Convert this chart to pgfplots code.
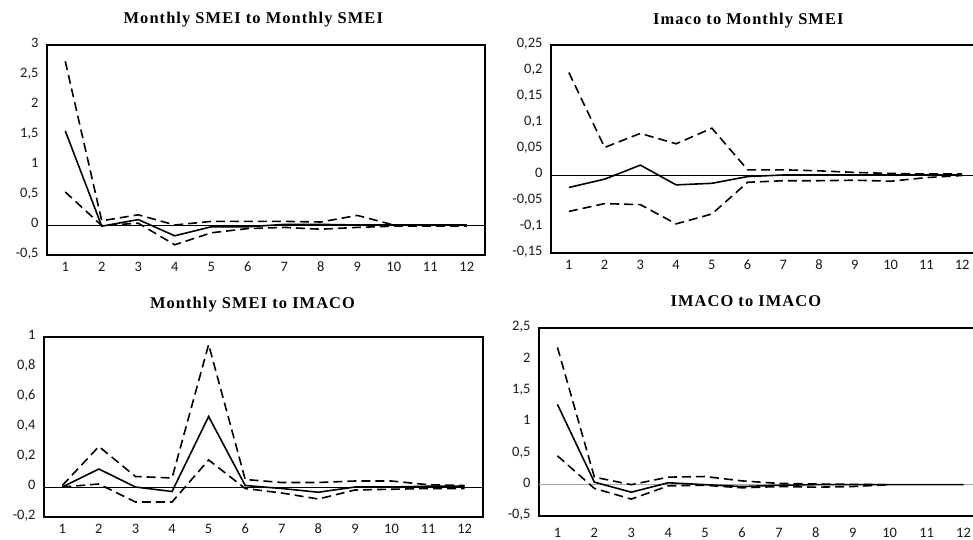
\documentclass[border=0pt]{standalone}
\usepackage{fontspec}
\setmainfont{Liberation Serif}
\newfontfamily\tickfont{Carlito}
\newfontfamily\titlefont[LetterSpace=6.5]{Liberation Serif}
\usepackage{pgfplots}
\pgfplotsset{compat=1.18}

\pgfplotsset{
  irf/.style={
    scale only axis,
    xmin=0.5, xmax=12.5,
    xtick={1,...,12},
    major tick length=0pt,
    axis line style={black, line width=1.2pt},
    tick label style={font=\fontsize{14.5}{15}\selectfont\tickfont, text=black!90},
    typeset ticklabels with strut,
    /pgf/number format/use comma,
    /pgf/number format/fixed,
    /pgf/number format/precision=2,
    /pgf/number format/assume math mode=true,
    yticklabel style={xshift=-5bp},
    xticklabel style={yshift=-3bp},
    extra y ticks={0},
    extra y tick labels={},
    extra y tick style={grid=major, major grid style={black, line width=0.8pt}},
    every axis title/.style={anchor=base, font=\fontsize{16.5}{17}\selectfont\titlefont\bfseries},
  },
  irfmain/.style={black, line width=1.6pt, no marks},
  irfband/.style={black, line width=1.6pt, no marks, dash pattern=on 9bp off 5bp},
}

\begin{document}
\begin{tikzpicture}
\useasboundingbox (0,0) rectangle (973bp,540bp);

% Monthly SMEI to Monthly SMEI
\begin{axis}[irf,
  at={(47bp,285bp)}, anchor=south west,
  width=438bp, height=210bp,
  ymin=-0.5, ymax=3,
  ytick={-0.5,0,0.5,1,1.5,2,2.5,3},
  title={Monthly SMEI to Monthly SMEI},
  title style={at={(axis description cs:0.471,1)}, yshift=21bp},
]
\addplot[irfband] coordinates {(1,2.73)(2,0.07)(3,0.17)(4,0.00)(5,0.06)(6,0.06)(7,0.06)(8,0.05)(9,0.16)(10,0.00)(11,0.00)(12,0.00)};
\addplot[irfband] coordinates {(1,0.55)(2,-0.01)(3,0.03)(4,-0.33)(5,-0.13)(6,-0.06)(7,-0.04)(8,-0.07)(9,-0.04)(10,-0.02)(11,-0.02)(12,-0.02)};
\addplot[irfmain] coordinates {(1,1.57)(2,-0.02)(3,0.09)(4,-0.18)(5,-0.03)(6,-0.03)(7,0.01)(8,0.01)(9,0.00)(10,0.00)(11,0.00)(12,0.00)};
\end{axis}

% Imaco to Monthly SMEI
\begin{axis}[irf,
  at={(551bp,287bp)}, anchor=south west,
  width=429bp, height=208bp,
  ymin=-0.15, ymax=0.25,
  ytick={-0.15,-0.1,-0.05,0,0.05,0.1,0.15,0.2,0.25},
  title={Imaco to Monthly SMEI},
  title style={at={(axis description cs:0.460,1)}, yshift=20.5bp},
]
\addplot[irfband] coordinates {(1,0.197)(2,0.053)(3,0.080)(4,0.060)(5,0.090)(6,0.010)(7,0.010)(8,0.008)(9,0.005)(10,0.003)(11,0.002)(12,0.002)};
\addplot[irfband] coordinates {(1,-0.070)(2,-0.055)(3,-0.057)(4,-0.094)(5,-0.075)(6,-0.014)(7,-0.011)(8,-0.011)(9,-0.010)(10,-0.012)(11,-0.005)(12,-0.001)};
\addplot[irfmain] coordinates {(1,-0.024)(2,-0.008)(3,0.019)(4,-0.019)(5,-0.016)(6,-0.003)(7,0.000)(8,0.000)(9,0.000)(10,0.000)(11,0.000)(12,0.000)};
\end{axis}

% Monthly SMEI to IMACO
\begin{axis}[irf,
  at={(44bp,23bp)}, anchor=south west,
  width=439bp, height=180bp,
  ymin=-0.2, ymax=1,
  ytick={-0.2,0,0.2,0.4,0.6,0.8,1},
  title={Monthly SMEI to IMACO},
  title style={at={(axis description cs:0.475,1)}, yshift=28bp},
]
\addplot[irfband] coordinates {(1,0.01)(2,0.27)(3,0.07)(4,0.06)(5,0.95)(6,0.05)(7,0.03)(8,0.03)(9,0.04)(10,0.04)(11,0.015)(12,0.01)};
\addplot[irfband] coordinates {(1,0.00)(2,0.02)(3,-0.10)(4,-0.10)(5,0.18)(6,-0.01)(7,-0.04)(8,-0.08)(9,-0.02)(10,-0.015)(11,-0.01)(12,-0.01)};
\addplot[irfmain] coordinates {(1,0.00)(2,0.12)(3,0.00)(4,-0.03)(5,0.47)(6,0.01)(7,-0.01)(8,-0.035)(9,0.00)(10,0.00)(11,0.005)(12,0.005)};
\end{axis}

% IMACO to IMACO
\begin{axis}[irf,
  at={(539bp,24bp)}, anchor=south west,
  width=443bp, height=188bp,
  ymin=-0.5, ymax=2.5,
  ytick={-0.5,0,0.5,1,1.5,2,2.5},
  xticklabel style={yshift=-5bp},
  extra y tick style={grid=major, major grid style={gray!70, line width=0.9pt}},
  title={IMACO to IMACO},
  title style={at={(axis description cs:0.467,1)}, yshift=21bp},
]
\addplot[irfband] coordinates {(1,2.19)(2,0.12)(3,0.00)(4,0.12)(5,0.13)(6,0.06)(7,0.02)(8,0.01)(9,0.005)(10,0.00)};
\addplot[irfband] coordinates {(1,0.46)(2,-0.06)(3,-0.23)(4,-0.02)(5,-0.01)(6,-0.05)(7,-0.03)(8,-0.04)(9,-0.03)(10,0.00)};
\addplot[irfmain] coordinates {(1,1.28)(2,0.04)(3,-0.12)(4,0.03)(5,0.00)(6,-0.03)(7,-0.01)(8,0.00)(9,0.00)(10,0.00)(11,0.00)(12,0.00)};
\end{axis}
\end{tikzpicture}
\end{document}
